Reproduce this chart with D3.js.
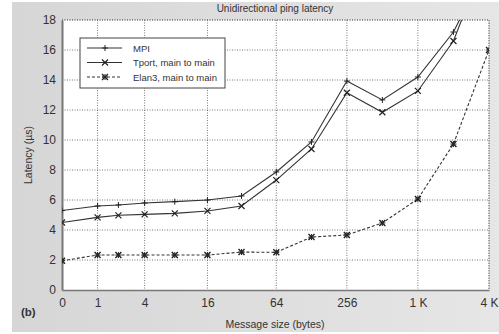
<!DOCTYPE html>
<html>
<head>
<meta charset="utf-8">
<script src="https://cdn.jsdelivr.net/npm/d3@7"></script>
<style>
  body { margin: 0; background: #fff; }
  svg text { font-family: "Liberation Sans", Arial, sans-serif; fill: #333; }
</style>
</head>
<body>
<script>
// message sizes in bytes (x axis is log2(size + 1))
const sizes = [0, 1, 2, 4, 8, 16, 32, 64, 128, 256, 512, 1024, 2048, 4096];
const tickSizes = [0, 1, 4, 16, 64, 256, 1024, 4096];
const tickLabels = ["0", "1", "4", "16", "64", "256", "1 K", "4 K"];
const yTicks = [0, 2, 4, 6, 8, 10, 12, 14, 16, 18];

const mpi   = [5.3, 5.6, 5.67, 5.8, 5.89, 6.0, 6.27, 7.87, 9.87, 13.93, 12.67, 14.2, 17.2, 21.9];
const tport = [4.5, 4.84, 4.98, 5.04, 5.11, 5.27, 5.6, 7.33, 9.4, 13.15, 11.85, 13.27, 16.6, 22.7];
const elan3 = [1.95, 2.33, 2.33, 2.33, 2.33, 2.33, 2.53, 2.51, 3.53, 3.67, 4.47, 6.07, 9.73, 16.0];

const seriesNames = ["MPI", "Tport, main to main", "Elan3, main to main"];

const w = 499, h = 334;
const pL = 62, pR = 489, pT = 20, pB = 290;

const svg = d3.select("body").append("svg")
    .attr("width", w)
    .attr("height", h);

// figure background gradient
const defs = svg.append("defs");
const grad = defs.append("linearGradient").attr("id", "bg").attr("x1", 0).attr("x2", 1).attr("y1", 0).attr("y2", 0);
grad.append("stop").attr("offset", "0").attr("stop-color", "#d6d6d6");
grad.append("stop").attr("offset", "1").attr("stop-color", "#e6e6e6");
defs.append("clipPath").attr("id", "clip")
    .append("rect").attr("x", pL).attr("y", pT).attr("width", pR - pL).attr("height", pB - pT);

svg.append("rect")
    .attr("x", 12).attr("y", 2).attr("width", w - 12).attr("height", 330)
    .attr("fill", "url(#bg)");

// scales
const x = d3.scaleLinear().domain([0, 12]).range([pL, pR]);
const xs = (s) => x(Math.log2(s + 1));
const y = d3.scaleLinear().domain([0, 18]).range([pB, pT]);

// plot area
svg.append("rect")
    .attr("x", pL).attr("y", pT).attr("width", pR - pL).attr("height", pB - pT)
    .attr("fill", "#fff");

// grid lines (dotted)
svg.append("g")
    .selectAll("line")
    .data(tickSizes.slice(1))
    .enter().append("line")
    .attr("x1", (d) => xs(d)).attr("x2", (d) => xs(d))
    .attr("y1", pT).attr("y2", pB)
    .attr("stroke", "#555").attr("stroke-width", 0.8).attr("stroke-dasharray", "1,1.5");

svg.append("g")
    .selectAll("line")
    .data(yTicks.slice(1))
    .enter().append("line")
    .attr("x1", pL).attr("x2", pR)
    .attr("y1", (d) => y(d)).attr("y2", (d) => y(d))
    .attr("stroke", "#555").attr("stroke-width", 0.8).attr("stroke-dasharray", "1,1.5");

// axes
const yAxis = d3.axisLeft(y).tickValues(yTicks).tickSize(0).tickPadding(6);
const gy = svg.append("g")
    .attr("transform", "translate(" + pL + ",0)")
    .call(yAxis);
gy.select(".domain").attr("stroke", "#777").attr("stroke-width", 2);
gy.selectAll("text").attr("font-size", 12).attr("fill", "#333")
    .style("font-family", "'Liberation Sans', Arial, sans-serif");

const xAxis = d3.axisBottom(x)
    .tickValues(tickSizes.map((s) => Math.log2(s + 1)))
    .tickFormat((d, i) => tickLabels[i])
    .tickSize(0).tickPadding(8);
const gx = svg.append("g")
    .attr("transform", "translate(0," + pB + ")")
    .call(xAxis);
gx.select(".domain").attr("stroke", "#777").attr("stroke-width", 1.5);
gx.selectAll("text").attr("font-size", 12).attr("fill", "#555")
    .style("font-family", "'Liberation Sans', Arial, sans-serif");

// lines
const plot = svg.append("g").attr("clip-path", "url(#clip)");
const allSeries = [mpi, tport, elan3];
const dashes = [null, null, "3,2"];
const line = d3.line().x((d, i) => xs(sizes[i])).y((d) => y(d));

allSeries.forEach((vals, k) => {
    plot.append("path")
        .datum(vals)
        .attr("d", line)
        .attr("fill", "none")
        .attr("stroke", "#333")
        .attr("stroke-width", 1.1)
        .attr("stroke-dasharray", dashes[k]);
});

// markers
function marker(g, k, cx, cy) {
    const s = 3;
    if (k === 0 || k === 2) {
        g.append("path").attr("d", `M${cx - s},${cy}H${cx + s}M${cx},${cy - s}V${cy + s}`)
            .attr("stroke", "#222").attr("stroke-width", 1);
    }
    if (k === 1 || k === 2) {
        g.append("path").attr("d", `M${cx - s},${cy - s}L${cx + s},${cy + s}M${cx - s},${cy + s}L${cx + s},${cy - s}`)
            .attr("stroke", "#222").attr("stroke-width", k === 2 ? 1.4 : 1.2);
    }
}
allSeries.forEach((vals, k) => {
    vals.forEach((v, i) => {
        if (v <= 18) marker(plot, k, xs(sizes[i]), y(v));
    });
});

// top and right borders (dotted)
svg.append("path")
    .attr("d", `M${pL},${pT}H${pR}V${pB}`)
    .attr("fill", "none").attr("stroke", "#555").attr("stroke-width", 0.8).attr("stroke-dasharray", "1,1.5");

// legend
const lg = svg.append("g");
lg.append("rect")
    .attr("x", 80).attr("y", 38).attr("width", 145).attr("height", 50)
    .attr("fill", "#fff").attr("stroke", "#444").attr("stroke-width", 1);
seriesNames.forEach((name, k) => {
    const ly = 48 + k * 14.5;
    lg.append("line")
        .attr("x1", 87).attr("x2", 122).attr("y1", ly).attr("y2", ly)
        .attr("stroke", "#333").attr("stroke-width", 1.1)
        .attr("stroke-dasharray", dashes[k]);
    marker(lg, k, 105, ly);
    lg.append("text")
        .attr("x", 133).attr("y", ly + 3.5)
        .attr("font-size", 9.5)
        .text(name);
});

// titles
svg.append("text")
    .attr("x", 275).attr("y", 12)
    .attr("text-anchor", "middle")
    .attr("font-size", 10)
    .text("Unidirectional ping latency");

svg.append("text")
    .attr("x", 275).attr("y", 328)
    .attr("text-anchor", "middle")
    .attr("font-size", 10.5)
    .text("Message size (bytes)");

svg.append("text")
    .attr("transform", "translate(32,155) rotate(-90)")
    .attr("text-anchor", "middle")
    .attr("font-size", 10.5)
    .text("Latency (µs)");

svg.append("text")
    .attr("x", 21).attr("y", 316)
    .attr("font-size", 11.5)
    .attr("font-weight", "bold")
    .text("(b)");
</script>
</body>
</html>
